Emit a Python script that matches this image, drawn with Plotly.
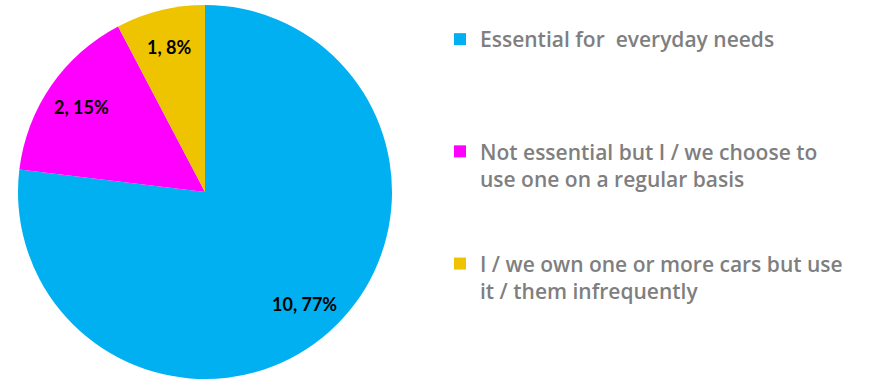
import math
import plotly.graph_objects as go

# Survey responses: how the household uses its car(s)
categories = [
    "Essential for  everyday needs",
    "Not essential but I / we choose to<br>use one on a regular basis",
    "I / we own one or more cars but use<br>it / them infrequently",
]
counts = [10, 2, 1]
colors = ["#00B0F0", "#FF00FF", "#EEC300"]

# pad the legend entries so they are spread evenly down the right side
legend_labels = [
    categories[0] + "<br> <br> <br> ",
    categories[1] + "<br> <br> ",
    categories[2],
]

W, H = 869, 381
cx, cy, r = 205, 192, 187

fig = go.Figure(
    go.Pie(
        labels=legend_labels,
        values=counts,
        marker=dict(colors=colors, line=dict(width=0)),
        sort=False,
        direction="clockwise",
        rotation=0,
        textinfo="none",
        hoverinfo="skip",
        domain=dict(
            x=[(cx - r) / W, (cx + r) / W],
            y=[(H - cy - r) / H, (H - cy + r) / H],
        ),
    )
)

# "count, percent" labels placed inside each slice along its mid-angle
total = sum(counts)
start = 0.0
for v in counts:
    mid = (start + v / 2) / total * 2 * math.pi  # clockwise from 12 o'clock
    start += v
    rr = 0.80 * r
    px = cx + rr * math.sin(mid)
    py = cy - rr * math.cos(mid)
    fig.add_annotation(
        x=px / W,
        y=1 - py / H,
        xref="paper",
        yref="paper",
        xanchor="center",
        yanchor="middle",
        text=f"<b>{v}, {round(100 * v / total)}%</b>",
        showarrow=False,
        font=dict(family="Lato", size=18, color="#000000"),
    )

fig.update_layout(
    width=W,
    height=H,
    margin=dict(l=0, r=0, t=0, b=0),
    paper_bgcolor="white",
    plot_bgcolor="white",
    showlegend=True,
    legend=dict(
        x=440 / W,
        y=1 - 19 / H,
        xanchor="left",
        yanchor="top",
        valign="top",
        font=dict(family="Open Sans", size=21, color="#7F7F7F", weight=600),
        itemsizing="constant",
        bgcolor="rgba(0,0,0,0)",
    ),
)

fig.write_html("out.html")
